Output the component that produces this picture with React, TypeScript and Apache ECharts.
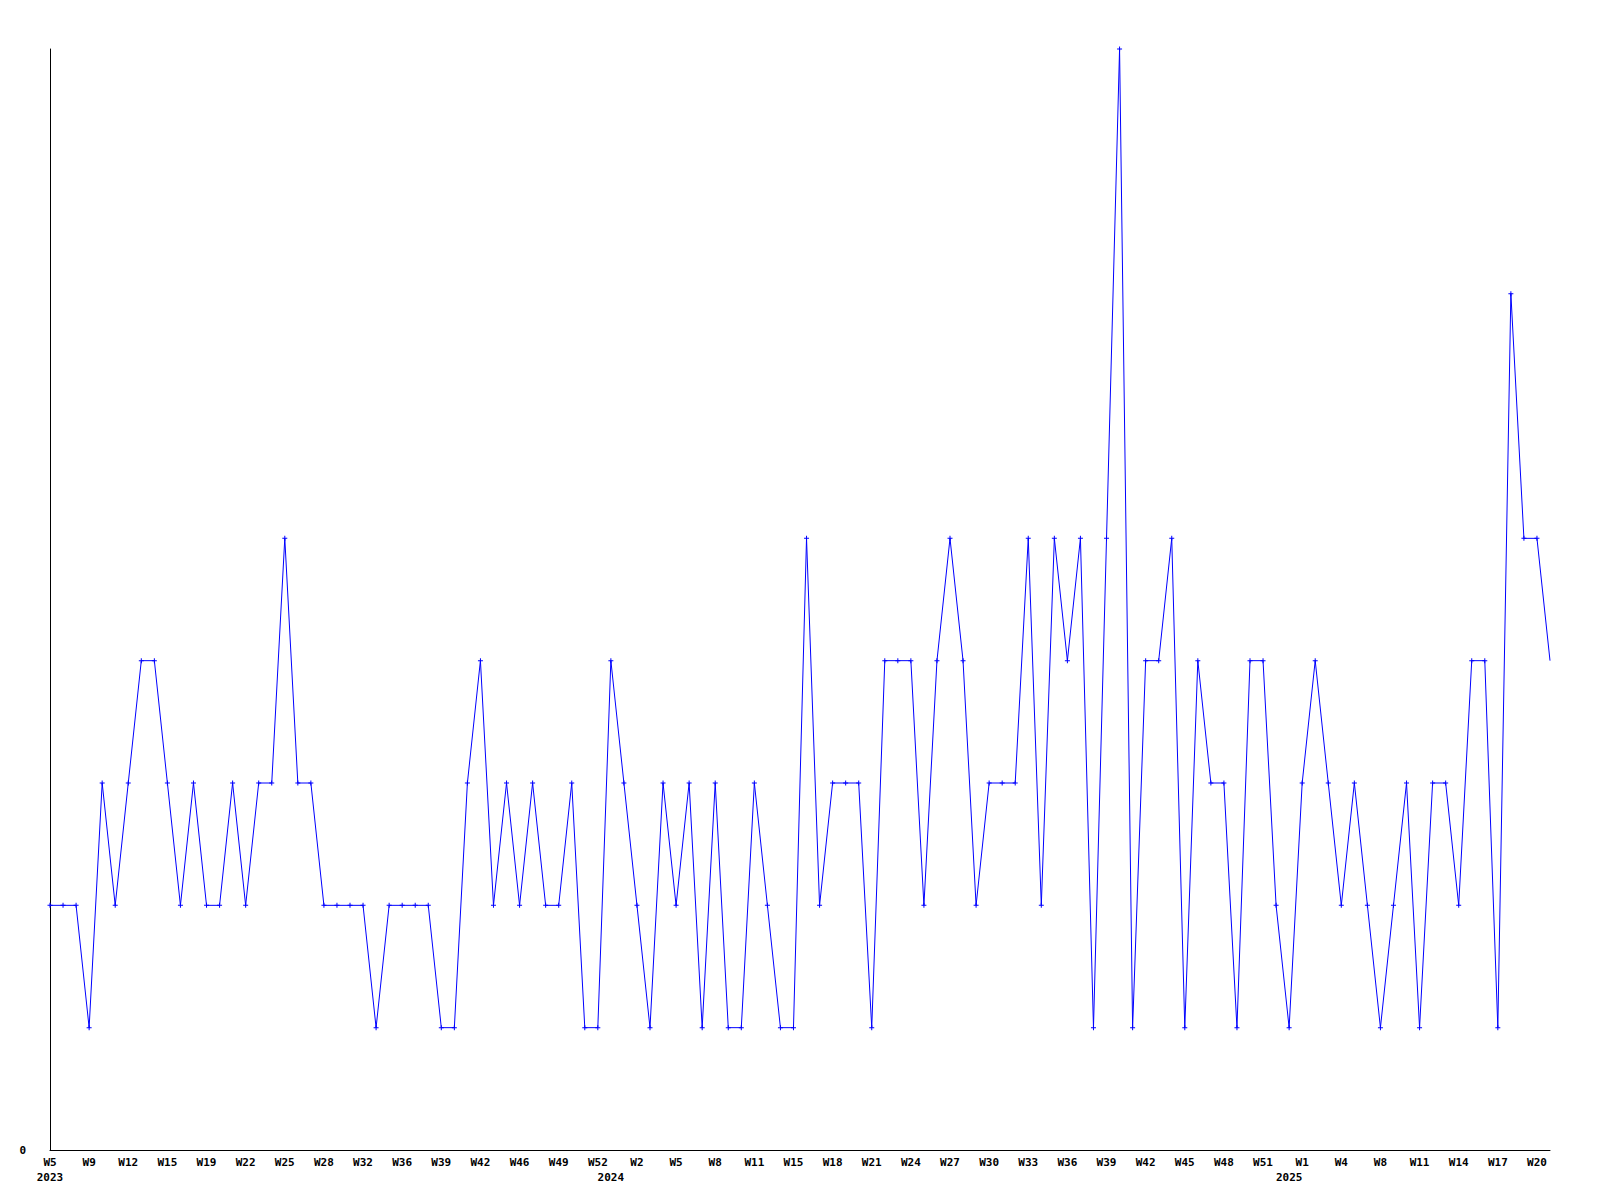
import React, { useEffect, useRef } from "react";
import * as echarts from "echarts";

// Week tick labels, one every 3 points (indices 0, 3, 6, ...)
const weekLabels = [
  "W5", "W9", "W12", "W15", "W19", "W22", "W25", "W28", "W32", "W36",
  "W39", "W42", "W46", "W49", "W52", "W2", "W5", "W8", "W11", "W15",
  "W18", "W21", "W24", "W27", "W30", "W33", "W36", "W39", "W42", "W45",
  "W48", "W51", "W1", "W4", "W8", "W11", "W14", "W17", "W20",
];
const labelStep = 3;

// Year labels and the point index they sit under
const yearLabels = ["2023", "2024", "2025"];
const yearIndices = [0, 43, 95];

// Series values, one per point
const values = [
  2, 2, 2, 1, 3, 2, 3, 4, 4, 3,
  2, 3, 2, 2, 3, 2, 3, 3, 5, 3,
  3, 2, 2, 2, 2, 1, 2, 2, 2, 2,
  1, 1, 3, 4, 2, 3, 2, 3, 2, 2,
  3, 1, 1, 4, 3, 2, 1, 3, 2, 3,
  1, 3, 1, 1, 3, 2, 1, 1, 5, 2,
  3, 3, 3, 1, 4, 4, 4, 2, 4, 5,
  4, 2, 3, 3, 3, 5, 2, 5, 4, 5,
  1, 5, 9, 1, 4, 4, 5, 1, 4, 3,
  3, 1, 4, 4, 2, 1, 3, 4, 3, 2,
  3, 2, 1, 2, 3, 1, 3, 3, 2, 4,
  4, 1, 7, 5, 5, 4,
];

const yMax = 9;

export default function App() {
  const ref = useRef<HTMLDivElement>(null);
  useEffect(() => {
    if (!ref.current) return;
    const chart = echarts.init(ref.current, undefined, { renderer: "svg" });
    const last = values.length - 1;
    const font = "DejaVu Sans Mono";
    chart.setOption({
      animation: false,
      backgroundColor: "#ffffff",
      grid: { left: 50, right: 50, top: 49, bottom: 50, containLabel: false },
      xAxis: [
        {
          type: "value",
          min: 0,
          max: last,
          interval: labelStep,
          axisLine: { show: true, onZero: false, lineStyle: { color: "#000", width: 1 } },
          axisTick: { show: false },
          splitLine: { show: false },
          axisLabel: {
            show: true,
            margin: 7,
            color: "#000",
            fontFamily: font,
            fontWeight: "bold",
            fontSize: 11,
            showMaxLabel: false,
            formatter: (v: number) => {
              const k = Math.round(v / labelStep);
              return v % labelStep === 0 && weekLabels[k] ? weekLabels[k] : "";
            },
          },
        },
        {
          type: "value",
          position: "bottom",
          min: 0,
          max: last,
          interval: 1,
          axisLine: { show: false },
          axisTick: { show: false },
          splitLine: { show: false },
          axisLabel: {
            show: true,
            margin: 22,
            color: "#000",
            fontFamily: font,
            fontWeight: "bold",
            fontSize: 11,
            formatter: (v: number) => {
              const j = yearIndices.indexOf(v);
              return j >= 0 ? yearLabels[j] : "";
            },
          },
        },
      ],
      yAxis: {
        type: "value",
        min: 0,
        max: yMax,
        interval: 1,
        axisLine: { show: true, lineStyle: { color: "#000", width: 1 } },
        axisTick: { show: false },
        splitLine: { show: false },
        axisLabel: {
          margin: 24,
          color: "#000",
          fontFamily: font,
          fontWeight: "bold",
          fontSize: 11,
          formatter: (v: number) => (v === 0 ? "0" : ""),
        },
      },
      series: [
        {
          type: "line",
          xAxisIndex: 0,
          data: values.map((v, i) =>
            i === last ? { value: [i, v], symbol: "none" } : { value: [i, v] }
          ),
          symbol: "path://M2,0h1v2h2v1h-2v2h-1v-2h-2v-1h2z",
          symbolSize: 5,
          showAllSymbol: true,
          lineStyle: { color: "#0000ff", width: 1 },
          itemStyle: { color: "#0000ff" },
          clip: false,
        },
      ],
    });
    return () => chart.dispose();
  }, []);
  return (
    <div
      ref={ref}
      style={{ position: "fixed", left: 0, top: 0, width: "1600px", height: "1200px", background: "#fff" }}
    />
  );
}
